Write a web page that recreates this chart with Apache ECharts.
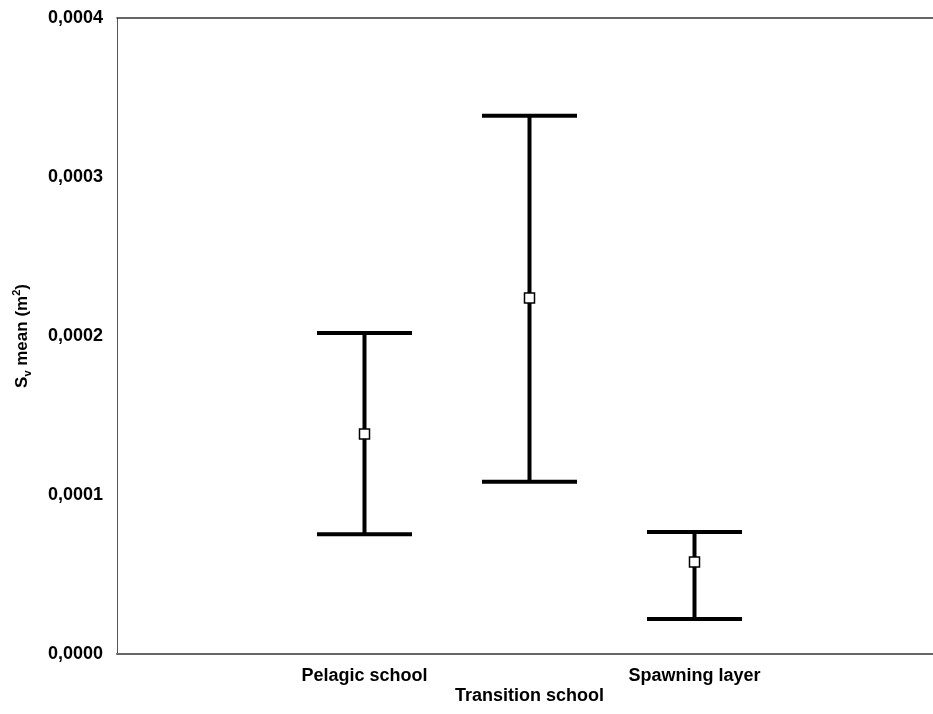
<!DOCTYPE html>
<html>
<head>
<meta charset="utf-8">
<script src="https://cdn.jsdelivr.net/npm/echarts@6/dist/echarts.min.js"></script>
<style>
html,body{margin:0;padding:0;background:#fff;}
#chart{width:933px;height:714px;}
</style>
</head>
<body>
<div id="chart"></div>
<script>
// Data
var categories = ['Pelagic school', 'Transition school', 'Spawning layer'];
var meanValues = [0.0001384, 0.0002239, 0.0000579];
var lowerValues = [0.0000753, 0.0001084, 0.0000220];
var upperValues = [0.0002019, 0.0003386, 0.0000767];
var yTicks = [0, 0.0001, 0.0002, 0.0003, 0.0004];

var barData = categories.map(function (c, i) {
  return [c, lowerValues[i], upperValues[i]];
});
var meanData = categories.map(function (c, i) {
  return [c, meanValues[i]];
});

var chart = echarts.init(document.getElementById('chart'));
var font = 'Liberation Sans, Arial, sans-serif';
var yMin = yTicks[0], yMax = yTicks[yTicks.length - 1];

chart.setOption({
  animation: false,
  backgroundColor: '#fff',
  grid: [
    { left: 117, top: 18, height: 636, right: 0, show: false },
    { left: 282, top: 18, height: 636, width: 495, show: false }
  ],
  xAxis: [{
    // frame bottom line
    type: 'value', gridIndex: 0, min: 0, max: 1,
    axisLine: { show: true, lineStyle: { color: '#666', width: 2 } },
    axisTick: { show: false }, axisLabel: { show: false }, splitLine: { show: false }
  }, {
    // frame top line
    type: 'value', gridIndex: 0, position: 'top', min: 0, max: 1,
    axisLine: { show: true, lineStyle: { color: '#333', width: 1.5 } },
    axisTick: { show: false }, axisLabel: { show: false }, splitLine: { show: false }
  }, {
    type: 'category',
    gridIndex: 1,
    data: categories,
    boundaryGap: true,
    axisLine: { show: false },
    axisTick: { show: false },
    splitLine: { show: false },
    axisLabel: {
      interval: 0,
      margin: 12,
      color: '#000',
      fontFamily: font,
      fontWeight: 'bold',
      fontSize: 18,
      lineHeight: 20,
      formatter: function (v, i) { return i === 1 ? '\n' + v : v; }
    }
  }],
  yAxis: [{
    type: 'value',
    gridIndex: 0,
    min: yMin,
    max: yMax,
    interval: yTicks[1] - yTicks[0],
    axisLine: { show: true, lineStyle: { color: '#555', width: 1 } },
    axisTick: { show: false },
    splitLine: { show: false },
    axisLabel: {
      margin: 14,
      color: '#000',
      fontFamily: font,
      fontWeight: 'bold',
      fontSize: 18,
      formatter: function (v) { return v.toFixed(4).replace('.', ','); }
    },
    name: '{a|S}{b|v}{a| mean (m}{c|2}{a|)}',
    nameLocation: 'middle',
    nameRotate: 90,
    nameGap: 84,
    nameTextStyle: {
      color: '#000',
      fontFamily: font,
      fontWeight: 'bold',
      fontSize: 17,
      rich: {
        a: { fontFamily: font, fontWeight: 'bold', fontSize: 17, lineHeight: 22, color: '#000', verticalAlign: 'middle' },
        b: { fontFamily: font, fontWeight: 'bold', fontSize: 11, lineHeight: 22, color: '#000', verticalAlign: 'bottom' },
        c: { fontFamily: font, fontWeight: 'bold', fontSize: 11, lineHeight: 22, color: '#000', verticalAlign: 'top' }
      }
    }
  }, {
    type: 'value',
    gridIndex: 1,
    min: yMin,
    max: yMax,
    show: false
  }],
  series: [
    {
      type: 'custom',
      xAxisIndex: 2,
      yAxisIndex: 1,
      data: barData,
      z: 2,
      renderItem: function (params, api) {
        var x = api.value(0);
        var lo = api.coord([x, api.value(1)]);
        var hi = api.coord([x, api.value(2)]);
        var band = api.size([1, 0])[0];
        var half = band * 0.288;
        var style = { stroke: '#000', lineWidth: 4, fill: null };
        return {
          type: 'group',
          children: [
            { type: 'line', shape: { x1: hi[0], y1: hi[1], x2: lo[0], y2: lo[1] }, style: style },
            { type: 'line', shape: { x1: hi[0] - half, y1: hi[1], x2: hi[0] + half, y2: hi[1] }, style: style },
            { type: 'line', shape: { x1: lo[0] - half, y1: lo[1], x2: lo[0] + half, y2: lo[1] }, style: style }
          ]
        };
      }
    },
    {
      type: 'scatter',
      xAxisIndex: 2,
      yAxisIndex: 1,
      data: meanData,
      z: 3,
      symbol: 'rect',
      symbolSize: 10,
      itemStyle: { color: '#fff', borderColor: '#000', borderWidth: 1.5, opacity: 1 }
    }
  ]
});
</script>
</body>
</html>
